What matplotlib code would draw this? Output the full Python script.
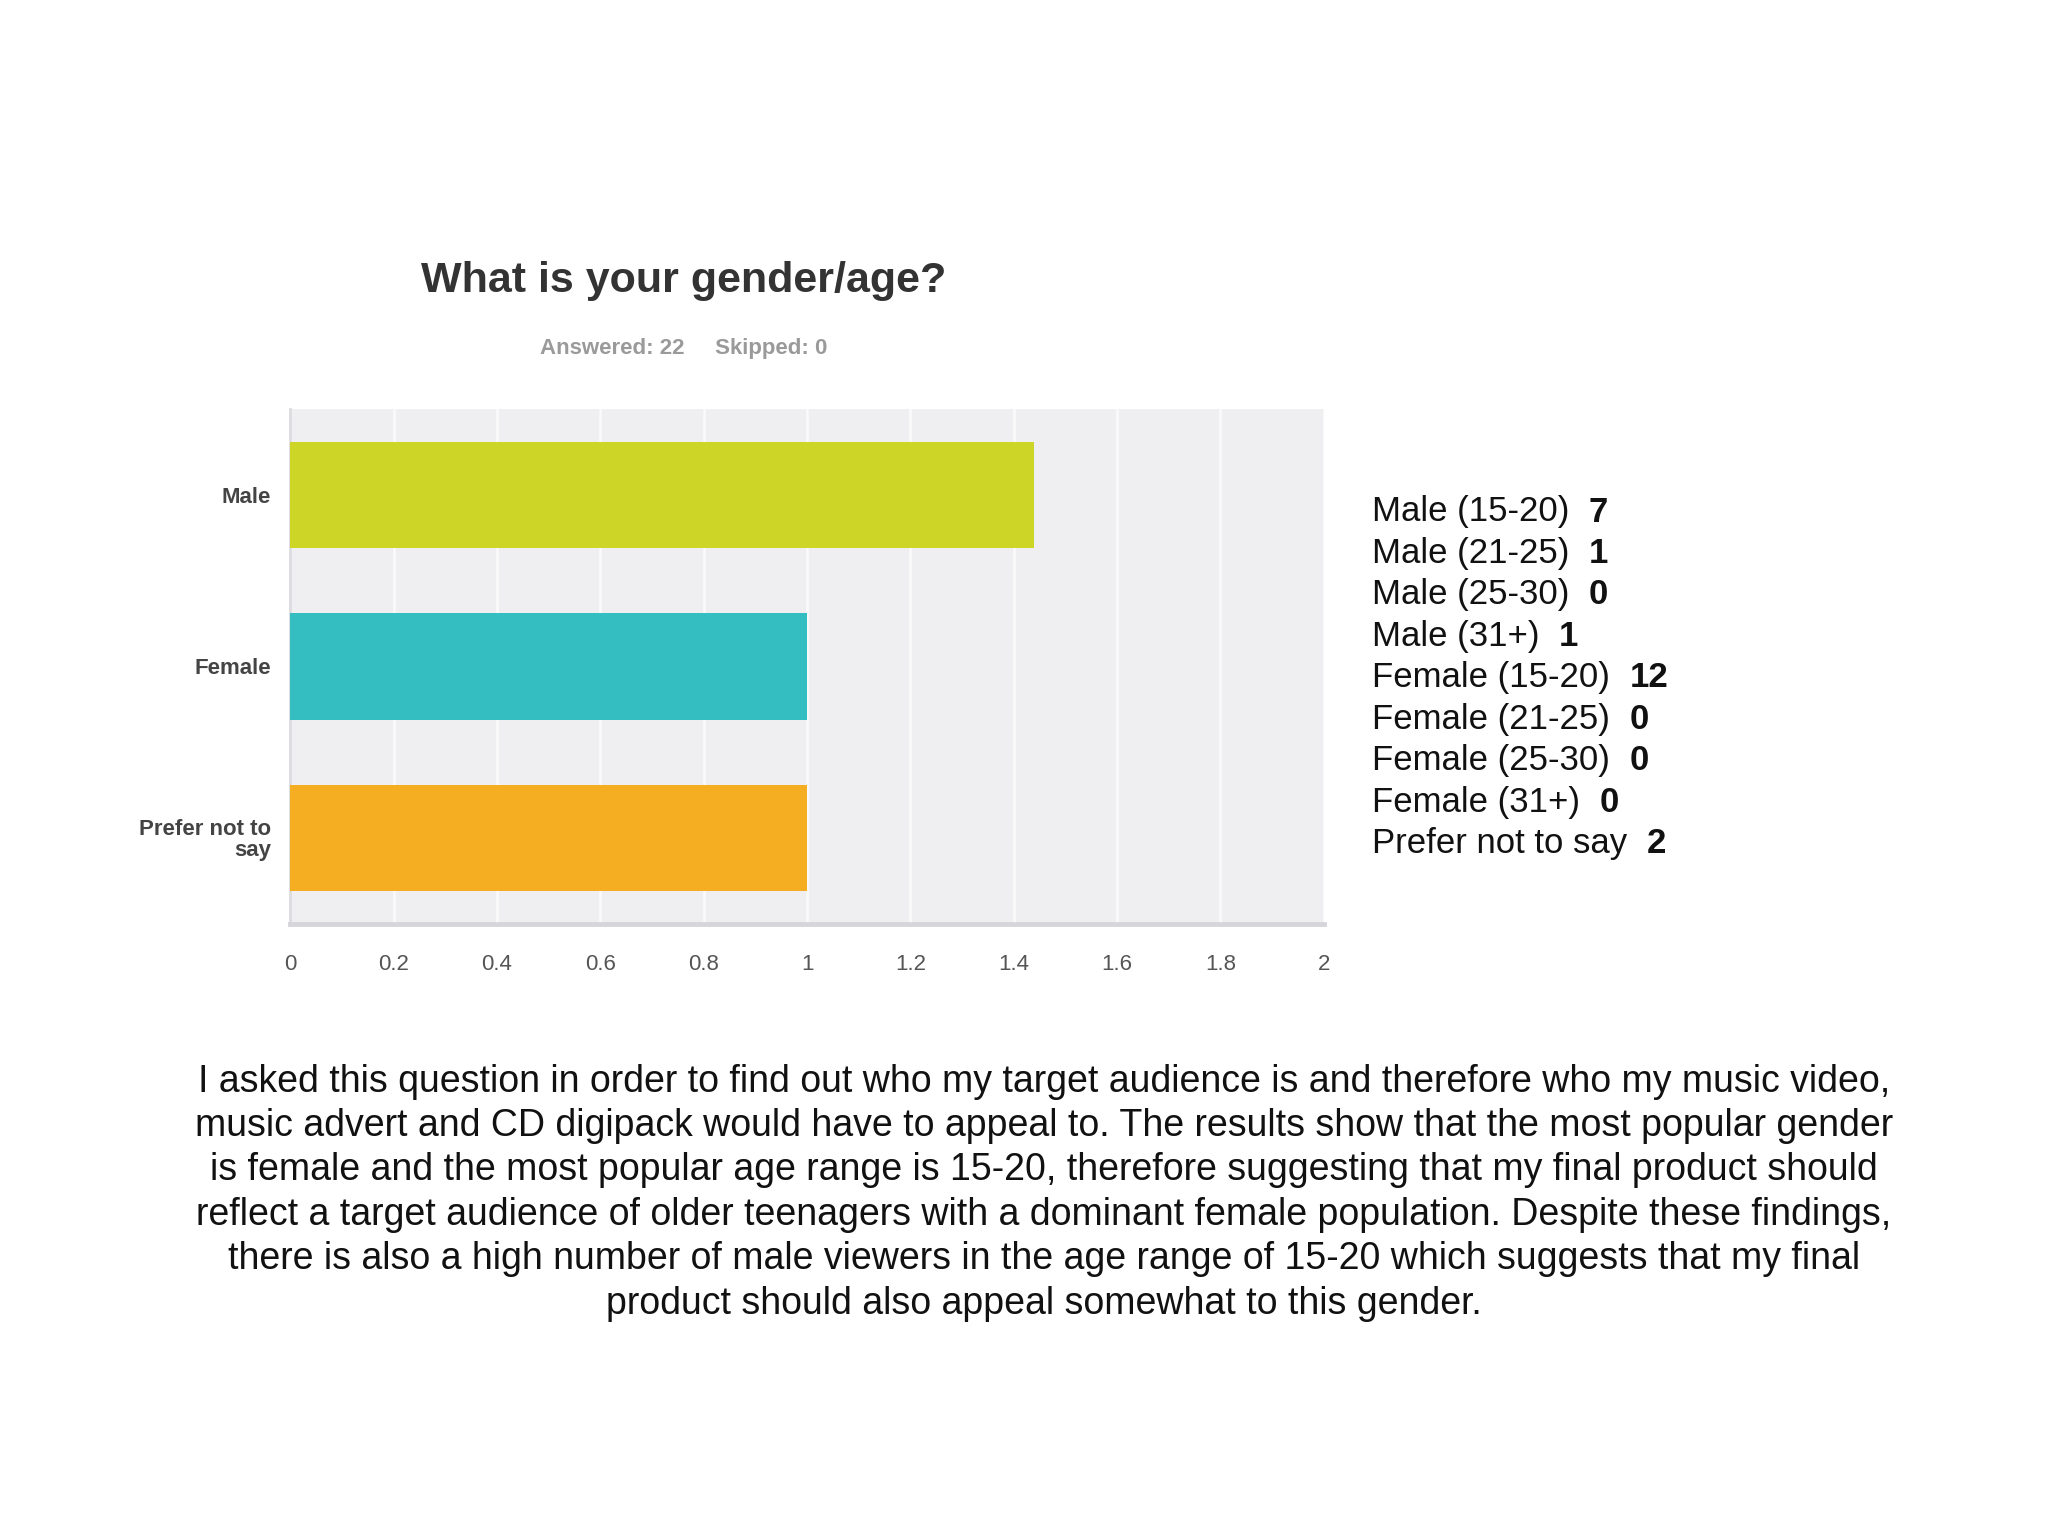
import matplotlib
matplotlib.use("Agg")
import matplotlib.pyplot as plt

plt.rcParams["font.family"] = ["Liberation Sans", "DejaVu Sans"]

# data
categories = ["Male", "Female", "Prefer not to\nsay"]
values = [1.44, 1.0, 1.0]
bar_colors = ["#cdd627", "#35bec1", "#f5ae22"]
x_ticks = [0, 0.2, 0.4, 0.6, 0.8, 1, 1.2, 1.4, 1.6, 1.8, 2]
x_tick_labels = ["0", "0.2", "0.4", "0.6", "0.8", "1", "1.2", "1.4", "1.6", "1.8", "2"]

legend_labels = ["Male (15-20)", "Male (21-25)", "Male (25-30)", "Male (31+)",
                 "Female (15-20)", "Female (21-25)", "Female (25-30)",
                 "Female (31+)", "Prefer not to say"]
legend_counts = [7, 1, 0, 1, 12, 0, 0, 0, 2]

title = "What is your gender/age?"
subtitle = "Answered: 22     Skipped: 0"
body = ("I asked this question in order to find out who my target audience is and therefore who my music video,\n"
        "music advert and CD digipack would have to appeal to. The results show that the most popular gender\n"
        "is female and the most popular age range is 15-20, therefore suggesting that my final product should\n"
        "reflect a target audience of older teenagers with a dominant female population. Despite these findings,\n"
        "there is also a high number of male viewers in the age range of 15-20 which suggests that my final\n"
        "product should also appeal somewhat to this gender.")

fig = plt.figure(figsize=(20.48, 15.36), dpi=100)
ax = fig.add_axes([0.1418, 0.3986, 0.5045, 0.3351])
ax.set_facecolor("#efeef1")

ypos = list(range(len(categories)))
ax.barh(ypos, values, height=0.62, color=bar_colors, zorder=3)
ax.set_ylim(len(categories) - 0.5, -0.5)
ax.set_xlim(0, 2)
ax.set_xticks(x_ticks)
ax.set_xticklabels(x_tick_labels, fontsize=16, color="#555555")
ax.set_yticks(ypos)
ax.set_yticklabels(categories, fontsize=16, color="#444444", fontweight="bold")
for lab in ax.get_yticklabels():
    lab.set_multialignment("right")
    lab.set_linespacing(0.95)
ax.tick_params(axis="both", length=0)
ax.tick_params(axis="x", pad=22)
ax.tick_params(axis="y", pad=14)
ax.xaxis.grid(True, color="#fafafb", lw=1.8, zorder=1)
ax.set_axisbelow(True)
for side in ("top", "right"):
    ax.spines[side].set_visible(False)
ax.spines["left"].set_color("#dcdbdf")
ax.spines["left"].set_linewidth(2)
ax.spines["bottom"].set_color("#d6d5d9")
ax.spines["bottom"].set_linewidth(3.5)

fig.text(0.334, 0.817, title, ha="center", va="center", fontsize=31,
         fontweight="bold", color="#333333")
fig.text(0.334, 0.773, subtitle, ha="center", va="center", fontsize=16,
         fontweight="bold", color="#9a9a9a")

# list of sub-groups on the right
renderer = fig.canvas.get_renderer()
y0 = 1 - 388 / 1164
dy = 31.4 / 1164
for i, (lab, cnt) in enumerate(zip(legend_labels, legend_counts)):
    y = y0 - i * dy
    t = fig.text(0.670, y, lab + "  ", ha="left", va="center", fontsize=25,
                 color="#111111")
    bb = t.get_window_extent(renderer=renderer)
    xr = bb.x1 / fig.bbox.width
    fig.text(xr, y, str(cnt), ha="left", va="center", fontsize=25,
             fontweight="bold", color="#111111")

fig.text(0.5097, 1 - 806 / 1164, body, ha="center", va="top", fontsize=27,
         color="#111111", linespacing=1.3, multialignment="center")

fig.savefig("out.png", dpi=100, facecolor="white")
